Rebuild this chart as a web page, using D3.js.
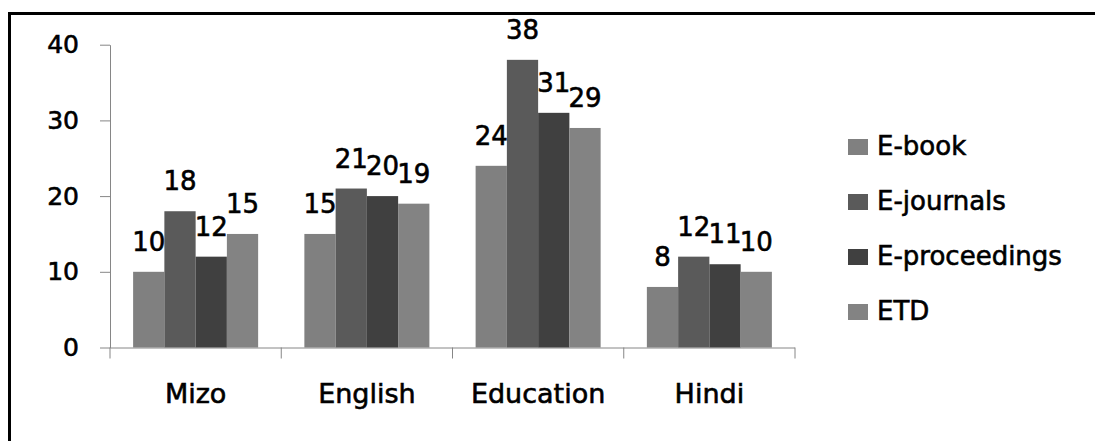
<!DOCTYPE html>
<html>
<head>
<meta charset="utf-8">
<script src="https://cdn.jsdelivr.net/npm/d3@7"></script>
<style>
body { margin: 0; background: #fff; }
svg text { font-family: "DejaVu Sans", sans-serif; fill: #000; stroke: #000; stroke-width: 0.6px; }
</style>
</head>
<body>
<svg></svg>
<script>
const categories = ["Mizo", "English", "Education", "Hindi"];
const series = ["E-book", "E-journals", "E-proceedings", "ETD"];
const eBook = [10, 15, 24, 8];
const eJournals = [18, 21, 38, 12];
const eProceedings = [12, 20, 31, 11];
const etd = [15, 19, 29, 10];
const yTicks = [0, 10, 20, 30, 40];
const colors = ["#808080", "#5a5a5a", "#404040", "#838383"];

const values = [eBook, eJournals, eProceedings, etd];
const width = 1095, height = 441;

const svg = d3.select("svg")
  .attr("width", width)
  .attr("height", height);

// outer frame (only top and left visible)
svg.append("path")
  .attr("d", `M9.5,${height} V13.5 H${width}`)
  .attr("fill", "none")
  .attr("stroke", "#000")
  .attr("stroke-width", 3);

const x0 = d3.scaleBand()
  .domain(categories)
  .range([110, 795])
  .paddingInner(0.27)
  .paddingOuter(0.135);

const x1 = d3.scaleBand()
  .domain(series)
  .range([0, x0.bandwidth()]);

const y = d3.scaleLinear()
  .domain([0, 40])
  .range([347.5, 44.7]);

// y axis
const yAxis = svg.append("g")
  .attr("transform", "translate(110,0)")
  .call(d3.axisLeft(y).tickValues(yTicks).tickSize(10).tickSizeOuter(0).tickPadding(21));
yAxis.select(".domain").attr("stroke", "#868686");
yAxis.selectAll(".tick line").attr("stroke", "#868686");
yAxis.selectAll(".tick text")
  .attr("font-size", 25)
  .attr("font-family", null)
  .attr("fill", null);

// x axis
const xAxis = svg.append("g")
  .attr("transform", `translate(0,${y(0)})`)
  .call(d3.axisBottom(x0).tickSize(0).tickSizeOuter(0).tickPadding(36));
xAxis.select(".domain").attr("stroke", "#868686").attr("d", "M110,0.5H795");
xAxis.selectAll(".tick text")
  .attr("font-size", 27)
  .attr("font-family", null)
  .attr("fill", null)
  .attr("dy", "0.71em");

const bounds = categories.map(c => x0(c) - x0.step() * x0.paddingInner() / 2)
  .concat([x0(categories[categories.length - 1]) + x0.bandwidth() + x0.step() * x0.paddingInner() / 2]);
xAxis.selectAll(".bound")
  .data(bounds)
  .enter().append("line")
  .attr("class", "bound")
  .attr("x1", d => d).attr("x2", d => d)
  .attr("y1", 0).attr("y2", 11)
  .attr("stroke", "#868686");

// bars
const groups = svg.selectAll(".group")
  .data(categories)
  .enter().append("g")
  .attr("class", "group")
  .attr("transform", d => `translate(${x0(d)},0)`);

groups.selectAll("rect")
  .data((c, i) => series.map((s, j) => ({ s, j, v: values[j][i] })))
  .enter().append("rect")
  .attr("x", d => x1(d.s))
  .attr("y", d => y(d.v))
  .attr("width", x1.bandwidth())
  .attr("height", d => y(0) - y(d.v))
  .attr("fill", d => colors[d.j]);

groups.selectAll(".lbl")
  .data((c, i) => series.map((s, j) => ({ s, j, v: values[j][i] })))
  .enter().append("text")
  .attr("class", "lbl")
  .attr("x", d => x1(d.s) + x1.bandwidth() / 2)
  .attr("y", d => y(d.v) - 21)
  .attr("text-anchor", "middle")
  .attr("font-size", 26)
  .text(d => d.v);

// legend
const legend = svg.selectAll(".legend")
  .data(series)
  .enter().append("g")
  .attr("class", "legend")
  .attr("transform", (d, i) => `translate(848,${155 + i * 55})`);

legend.append("rect")
  .attr("x", 0).attr("y", -16)
  .attr("width", 20).attr("height", 16)
  .attr("fill", (d, i) => colors[i]);

legend.append("text")
  .attr("x", 29).attr("y", 0)
  .attr("font-size", 26)
  .text(d => d);
</script>
</body>
</html>
